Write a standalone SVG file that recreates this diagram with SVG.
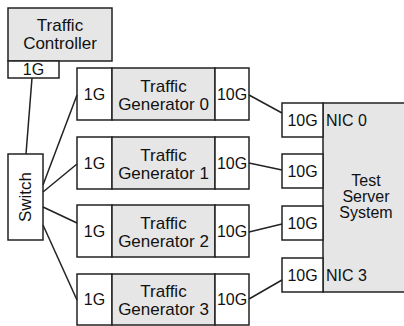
<svg xmlns="http://www.w3.org/2000/svg" width="404" height="326" viewBox="0 0 404 326">
<style>
.b{fill:#fff;stroke:#222;stroke-width:1.5}
.g{fill:#e6e6e6;stroke:#222;stroke-width:1.5}
.t{font-family:"Liberation Sans",Arial,sans-serif;font-size:16px;fill:#111;text-anchor:middle}
.t.k{font-size:17px}
.l{font-family:"Liberation Sans",Arial,sans-serif;font-size:16px;fill:#111}
.c{fill:none;stroke:#222;stroke-width:1.5}
</style>
<g id="controller">
<rect class="g" x="8" y="8" width="104" height="53"/>
<text class="t k" x="60" y="31">Traffic</text>
<text class="t k" x="60" y="49">Controller</text>
<rect class="b" x="8" y="61" width="51" height="17"/>
<text class="t" x="33.5" y="75">1G</text>
</g>
<g id="switch">
<rect class="b" x="8" y="154" width="35" height="86"/>
<text class="t k" transform="translate(31,197) rotate(-90)">Switch</text>
</g>
<g id="gen0">
<rect class="b" x="77" y="68" width="35" height="52"/>
<rect class="g" x="112" y="68" width="103" height="52"/>
<rect class="b" x="215" y="68" width="34" height="52"/>
<text class="t" x="94.5" y="100">1G</text>
<text class="t k" x="163.5" y="92">Traffic</text>
<text class="t k" x="163.5" y="110">Generator 0</text>
<text class="t" x="232" y="100">10G</text>
</g>
<g id="gen1">
<rect class="b" x="77" y="137" width="35" height="52"/>
<rect class="g" x="112" y="137" width="103" height="52"/>
<rect class="b" x="215" y="137" width="34" height="52"/>
<text class="t" x="94.5" y="169">1G</text>
<text class="t k" x="163.5" y="161">Traffic</text>
<text class="t k" x="163.5" y="179">Generator 1</text>
<text class="t" x="232" y="169">10G</text>
</g>
<g id="gen2">
<rect class="b" x="77" y="205" width="35" height="52"/>
<rect class="g" x="112" y="205" width="103" height="52"/>
<rect class="b" x="215" y="205" width="34" height="52"/>
<text class="t" x="94.5" y="237">1G</text>
<text class="t k" x="163.5" y="229">Traffic</text>
<text class="t k" x="163.5" y="247">Generator 2</text>
<text class="t" x="232" y="237">10G</text>
</g>
<g id="gen3">
<rect class="b" x="77" y="274" width="35" height="51"/>
<rect class="g" x="112" y="274" width="103" height="51"/>
<rect class="b" x="215" y="274" width="34" height="51"/>
<text class="t" x="94.5" y="305">1G</text>
<text class="t k" x="163.5" y="297">Traffic</text>
<text class="t k" x="163.5" y="315">Generator 3</text>
<text class="t" x="232" y="305">10G</text>
</g>
<g id="server">
<rect class="g" x="323" y="103" width="84" height="189"/>
<text class="t" x="366" y="186">Test</text>
<text class="t" x="366" y="202">Server</text>
<text class="t" x="366" y="218">System</text>
<text class="l" x="326" y="126">NIC 0</text>
<text class="l" x="326" y="281">NIC 3</text>
<rect class="b" x="282" y="103" width="41" height="34"/>
<text class="t" x="302.5" y="126">10G</text>
<rect class="b" x="282" y="154" width="41" height="34"/>
<text class="t" x="302.5" y="177">10G</text>
<rect class="b" x="282" y="206" width="41" height="34"/>
<text class="t" x="302.5" y="229">10G</text>
<rect class="b" x="282" y="258" width="41" height="34"/>
<text class="t" x="302.5" y="281">10G</text>
</g>
<g id="connectors">
<line class="c" x1="32" y1="78" x2="26" y2="154"/>
<line class="c" x1="43" y1="185" x2="77" y2="95"/>
<line class="c" x1="43" y1="192" x2="77" y2="164"/>
<line class="c" x1="43" y1="207" x2="77" y2="223"/>
<line class="c" x1="43" y1="225" x2="77" y2="300"/>
<line class="c" x1="249" y1="95" x2="282" y2="113"/>
<line class="c" x1="249" y1="163" x2="282" y2="170"/>
<line class="c" x1="249" y1="232" x2="282" y2="224"/>
<line class="c" x1="249" y1="299" x2="282" y2="280"/>
</g>
</svg>
